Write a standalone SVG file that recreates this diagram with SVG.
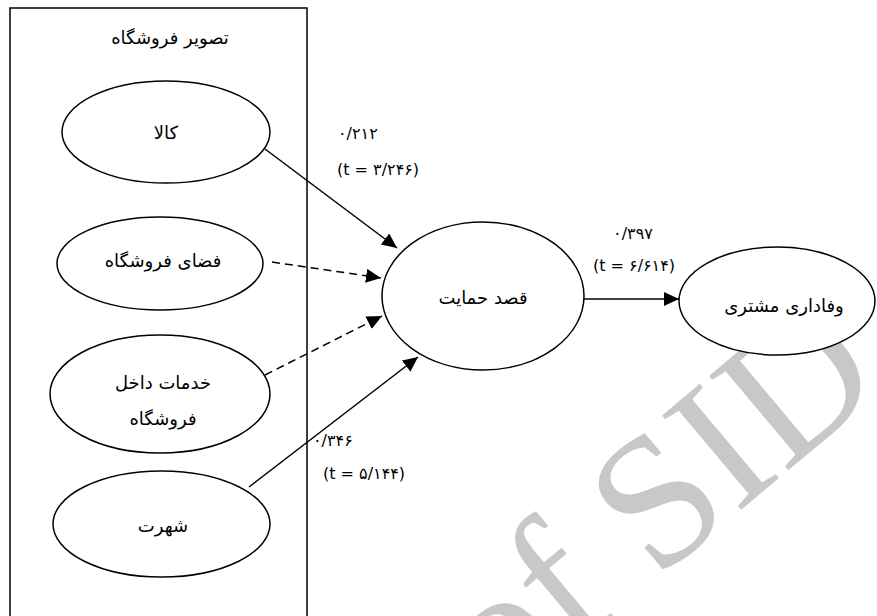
<svg xmlns="http://www.w3.org/2000/svg" width="877" height="616" viewBox="0 0 877 616">
<style>
.node ellipse{fill:#fff;stroke:#000;stroke-width:1.5}
.fa{font-family:"DejaVu Sans",sans-serif;font-size:18px;fill:#000;text-anchor:middle}
.num{font-family:"DejaVu Sans",sans-serif;font-size:16px;fill:#000;direction:ltr}
.edge{stroke:#000;stroke-width:1.5;fill:none}
.dash{stroke-dasharray:8 5}
.wm{font-family:"Liberation Serif",serif;font-size:188px;fill:#c8c8c8}
</style>
<defs>
<marker id="arr" markerUnits="userSpaceOnUse" markerWidth="16" markerHeight="16" refX="15" refY="7" orient="auto">
<path d="M0,0 L15,7 L0,14 Z" fill="#000"/>
</marker>
</defs>
<rect width="877" height="616" fill="#fff"/>
<text class="wm" transform="translate(500,712) rotate(-40)">of SID</text>
<g id="frame">
<rect x="10" y="8" width="297" height="620" fill="none" stroke="#000" stroke-width="1.5"/>
<text class="fa" x="170" y="44">تصویر فروشگاه</text>
</g>
<g id="edges">
<line class="edge" x1="265" y1="149" x2="397" y2="248" marker-end="url(#arr)"/>
<line class="edge dash" x1="272" y1="262" x2="381" y2="278" marker-end="url(#arr)"/>
<line class="edge dash" x1="265" y1="375" x2="382" y2="316" marker-end="url(#arr)"/>
<line class="edge" x1="249" y1="487" x2="418" y2="357" marker-end="url(#arr)"/>
<line class="edge" x1="583" y1="299" x2="679" y2="299" marker-end="url(#arr)"/>
<text class="num" x="338" y="139">۰/۲۱۲</text>
<text class="num" x="337" y="175">(t = ۳/۲۴۶)</text>
<text class="num" x="633" y="239" text-anchor="middle">۰/۳۹۷</text>
<text class="num" x="634" y="271" text-anchor="middle">(t = ۶/۶۱۴)</text>
<text class="num" x="313" y="446">۰/۳۴۶</text>
<text class="num" x="323" y="479">(t = ۵/۱۴۴)</text>
</g>
<g id="n-kala" class="node">
<ellipse cx="166" cy="132" rx="104" ry="51"/>
<text class="fa" x="166" y="139">کالا</text>
</g>
<g id="n-faza" class="node">
<ellipse cx="160" cy="263.5" rx="103" ry="46.5"/>
<text class="fa" x="163" y="267">فضای فروشگاه</text>
</g>
<g id="n-khadamat" class="node">
<ellipse cx="160" cy="394" rx="110" ry="59"/>
<text class="fa" x="163" y="389">خدمات داخل</text>
<text class="fa" x="163" y="425">فروشگاه</text>
</g>
<g id="n-shohrat" class="node">
<ellipse cx="161.5" cy="524" rx="108.5" ry="53"/>
<text class="fa" x="163" y="532">شهرت</text>
</g>
<g id="n-ghasd" class="node">
<ellipse cx="483" cy="296" rx="101" ry="74"/>
<text class="fa" x="483" y="304">قصد حمایت</text>
</g>
<g id="n-vafadari" class="node">
<ellipse cx="777" cy="301" rx="98" ry="54"/>
<text class="fa" x="784" y="312">وفاداری مشتری</text>
</g>
</svg>
